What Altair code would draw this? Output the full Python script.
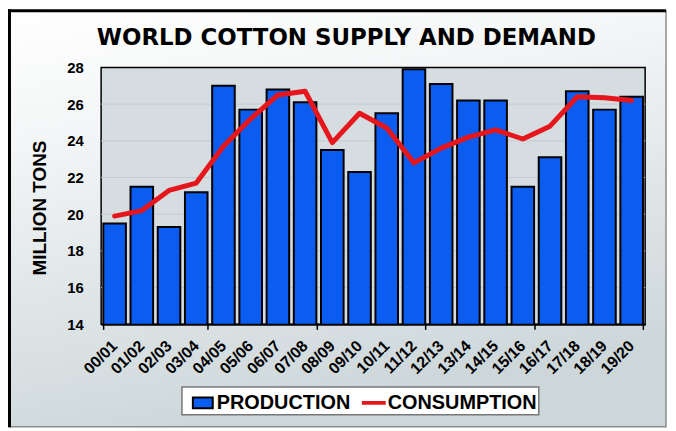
import altair as alt
import pandas as pd

# ---- data ----
periods = ["00/01", "01/02", "02/03", "03/04", "04/05", "05/06", "06/07", "07/08", "08/09", "09/10",
           "10/11", "11/12", "12/13", "13/14", "14/15", "15/16", "16/17", "17/18", "18/19", "19/20"]
production = [19.5, 21.5, 19.3, 21.2, 27.0, 25.7, 26.8, 26.1, 23.5, 22.3,
              25.5, 27.9, 27.1, 26.2, 26.2, 21.5, 23.1, 26.7, 25.7, 26.4]
consumption = [19.9, 20.2, 21.3, 21.7, 23.7, 25.2, 26.5, 26.7, 23.9, 25.5,
               24.7, 22.8, 23.6, 24.2, 24.6, 24.1, 24.8, 26.4, 26.35, 26.2]
y_ticks = [14, 16, 18, 20, 22, 24, 26, 28]
grid_values = [16, 18, 20, 22, 24, 26]
# ticks sit at the end of every fourth period (plus the start of the axis)
x_tick_periods = ["03/04", "07/08", "11/12", "15/16", "19/20"]
series_names = ["PRODUCTION", "CONSUMPTION"]

# ---- styles ----
BLUE = "#0b5cf0"
RED = "#e5161c"
series_fill = [BLUE, RED]
series_stroke = ["#000000", RED]
series_shape = ["M-0.385,-0.423H1.154V0.423H-0.385Z", "M-0.46,-0.077H1.23V0.077H-0.46Z"]

df = pd.DataFrame({"period": periods, "PRODUCTION": production, "CONSUMPTION": consumption})
grid_df = pd.DataFrame({"g": grid_values})
one_df = pd.DataFrame({"k": [0]})

W, H = 547.3, 258.5
PL, PT, PR, PB = 93.7, 58.5, 23, 105
FONT = "Liberation Sans"

xscale = alt.Scale(paddingInner=0.17, paddingOuter=0.08)
yscale = alt.Scale(domain=[14, 28], nice=False, zero=False)

tick_test = "datum.extra || indexof(" + str(x_tick_periods).replace("'", '"') + ", datum.value) >= 0"

xenc = alt.X("period:N", sort=periods, scale=xscale,
             axis=alt.Axis(title=None, labelAngle=-45, labelFont=FONT, labelFontWeight="bold",
                           labelFontSize=16, labelColor="black", labelPadding=8, labelOffset=-6,
                           ticks=True, tickBand="extent", tickSize=5, tickColor="black", tickWidth=1.5,
                           tickOpacity={"condition": {"test": tick_test, "value": 1}, "value": 0},
                           domainColor="black", domainWidth=2, grid=False, zindex=1))

yaxis = alt.Axis(title="MILLION TONS", values=y_ticks, ticks=False, tickSize=0, domain=False, grid=False,
                 labelFont=FONT, labelFontSize=15, labelFontWeight="bold", labelColor="black",
                 labelPadding=18, titleFont=FONT, titleFontSize=19, titleFontWeight="bold",
                 titleColor="black", titleAngle=270, titleAlign="center", titleBaseline="middle",
                 titleX=-62, titleY=141, zindex=1)


def yenc(field):
    return alt.Y(field, type="quantitative", scale=yscale, axis=yaxis)


gradient = alt.LinearGradient(
    gradient="linear",
    stops=[alt.GradientStop(offset=0, color="#ffffff"),
           alt.GradientStop(offset=0.3, color="#f3f5f6"),
           alt.GradientStop(offset=1, color="#cdd7da")],
    x1=0, y1=0, x2=0.3, y2=1)

bg = alt.Chart(one_df).mark_rect(fill=gradient, stroke="#8c8c8c", strokeWidth=1.5).encode(
    x=alt.value(-92.2), x2=alt.value(568.3), y=alt.value(-57), y2=alt.value(361.5))
top_rule = alt.Chart(one_df).mark_rule(color="black", strokeWidth=3).encode(
    x=alt.value(-93.7), x2=alt.value(568.3), y=alt.value(-57))
left_rule = alt.Chart(one_df).mark_rule(color="black", strokeWidth=3).encode(
    x=alt.value(-92.2), y=alt.value(-58.5), y2=alt.value(362))
plot_bg = alt.Chart(one_df).mark_rect(fill="#d5dde0", stroke="black", strokeWidth=1.5).encode(
    x=alt.value(0), x2=alt.value("width"), y=alt.value(0), y2=alt.value("height"))

grid = alt.Chart(grid_df).mark_rule(color="#c3cbce", strokeWidth=1).encode(y=yenc("g"))

bars = alt.Chart(df).mark_bar(fill=BLUE, stroke="black", strokeWidth=2, clip=True).encode(
    x=xenc, y=yenc("PRODUCTION"))

line = alt.Chart(df).mark_line(color=RED, strokeWidth=5, strokeJoin="round", strokeCap="round").encode(
    x=xenc, y=yenc("CONSUMPTION"))

leg = alt.Legend(title=None, orient="none", legendX=81.3, legendY=321.5, direction="horizontal",
                 fillColor="white", strokeColor="#777777", padding=2, symbolSize=676,
                 symbolStrokeWidth=2, labelFont=FONT, labelFontSize=20, labelFontWeight="bold",
                 labelColor="black", labelOffset=5, columnPadding=4, labelBaseline="middle",
                 labelLimit=0, cornerRadius=0)

legend_layer = alt.Chart(df).transform_fold(series_names, as_=["series", "value"]).mark_point(
    size=0, opacity=1, filled=True, strokeWidth=2).encode(
    x=xenc, y=yenc("value"),
    fill=alt.Fill("series:N", scale=alt.Scale(domain=series_names, range=series_fill), legend=leg),
    stroke=alt.Stroke("series:N", scale=alt.Scale(domain=series_names, range=series_stroke), legend=leg),
    shape=alt.Shape("series:N", scale=alt.Scale(domain=series_names, range=series_shape), legend=leg),
)

chart = alt.layer(bg, top_rule, left_rule, plot_bg, grid, bars, line, legend_layer).properties(
    width=W, height=H,
    title=alt.TitleParams("WORLD COTTON SUPPLY AND DEMAND", font="DejaVu Sans", fontSize=23,
                          fontWeight="bold", color="black", anchor="middle", frame="group",
                          dx=-27, offset=-60, baseline="alphabetic"),
    autosize=alt.AutoSizeParams(type="none"),
    padding={"left": PL, "top": PT, "right": PR, "bottom": PB},
    background="white",
).configure_view(stroke=None).configure_legend(strokeWidth=1.5)

chart.save("out.html", embed_options={"renderer": "svg", "actions": False})
